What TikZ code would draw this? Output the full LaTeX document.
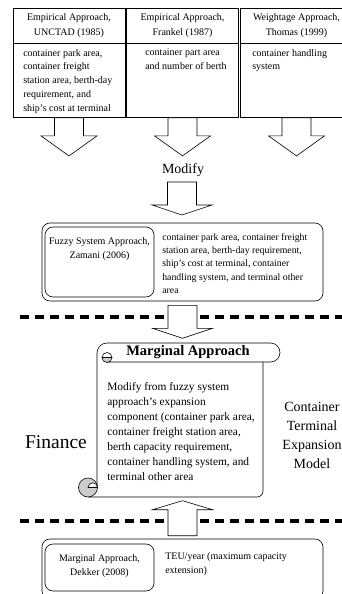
\documentclass[tikz,border=0pt]{standalone}
\usepackage{fontspec}
\setmainfont{Liberation Serif}
\usetikzlibrary{positioning}
\definecolor{rollgray}{gray}{0.8}
\tikzset{
  pics/hollow/.style n args={3}{code={
    \draw[fill=white] (-14.5,0) -- (-14.5,#1) -- (-#3,#1) -- (0,{#1+#2})
      -- (#3,#1) -- (14.5,#1) -- (14.5,0) -- cycle;
  }}
}
\begin{document}
\begin{tikzpicture}[x=1pt, y=-1pt, line width=0.6pt,
    head/.style={draw, minimum width=112pt, minimum height=35pt, inner sep=0pt, align=center, font=\fontsize{10}{15}\selectfont},
    bodybox/.style={draw, minimum width=112pt, minimum height=74pt, inner sep=0pt},
    bodytext/.style={anchor=north west, inner sep=0pt, align=left, font=\fontsize{10}{13.7}\selectfont},
    outerbox/.style={draw, rounded corners=8pt, minimum width=281pt, inner sep=0pt},
    innerbox/.style={draw, rounded corners=8pt, minimum width=109pt, inner sep=0pt},
    nametext/.style={inner sep=0pt, align=center, font=\fontsize{10}{13.5}\selectfont},
    desctext/.style={anchor=north west, inner sep=0pt, align=left, font=\fontsize{9.8}{13.3}\selectfont},
    dashline/.style={line width=3.5pt, dash pattern=on 9pt off 6pt},
    bigtext/.style={inner sep=0pt, align=center, font=\fontsize{14}{19}\selectfont}]
  \useasboundingbox (0,0) rectangle (342,594);

  % three source approaches
  \node[head] (unctadhead) at (69,25.5) {Empirical Approach,\\UNCTAD (1985)};
  \node[head] (frankelhead) at (182.5,25.5) {Empirical Approach,\\Frankel (1987)};
  \node[head] (thomashead) at (296.5,25.5) {Weightage Approach,\\Thomas (1999)};
  \node[bodybox, below=0pt of unctadhead] (unctadbody) {};
  \node[bodybox, below=0pt of frankelhead] (frankelbody) {};
  \node[bodybox, below=0pt of thomashead] (thomasbody) {};
  \node[bodytext] (unctadtext) at (23,49) {container park area,\\container freight\\station area, berth-day\\requirement, and\\ship's cost at terminal};
  \node[bodytext] (frankeltext) at (145,49) {container part area\\and number of berth};
  \node[bodytext] (thomastext) at (252,49) {container handling\\system};
  \pic at (unctadbody.south) {hollow={18}{20}{28}};
  \pic at (frankelbody.south) {hollow={18}{20}{28}};
  \pic at (thomasbody.south) {hollow={18}{20}{28}};

  \node[bigtext] (modify) at (183,170) {Modify};
  \pic at (182,182) {hollow={23}{10}{30}};

  % fuzzy system
  \node[outerbox, minimum height=78pt] (fuzzyouter) at (182.5,262) {};
  \node[innerbox, minimum height=70pt] (fuzzybox) at (99.5,262) {};
  \node[nametext] (fuzzyname) at (99.5,249) {Fuzzy System Approach,\\Zamani (2006)};
  \node[desctext] (fuzzydesc) at (162,233) {container park area, container freight\\station area, berth-day requirement,\\ship's cost at terminal, container\\handling system, and terminal other\\area};

  \draw[dashline] (20,317) -- (342,317);
  \pic at ([yshift=-4pt]fuzzyouter.south) {hollow={23}{10}{30}};

  % marginal approach scroll
  \draw[rounded corners=9.5pt] (107,343) -- (280,343) -- (280,362) -- (107,362);
  \draw[rounded corners=6pt] (263,362) -- (263,497) -- (88,497);
  \draw (97,487.5) -- (97,353) arc[start angle=180, end angle=270, radius=10];
  \draw[fill=rollgray] (102,357.5) arc[start angle=180, end angle=0, radius=5] -- cycle;
  \draw (102,357.5) arc[start angle=180, end angle=360, radius=5];
  \draw[fill=rollgray] (88,487.5) circle[radius=9.5];
  \draw[fill=white] (97.5,487.5) arc[start angle=0, end angle=-180, radius=4.75] -- cycle;
  \node[inner sep=0pt, font=\fontsize{14.5}{16}\selectfont\bfseries] (margtitle) at (188,352.5) {Marginal Approach};
  \node[anchor=north west, inner sep=0pt, align=left, font=\fontsize{11.4}{15}\selectfont] (margtext) at (107,382) {Modify from fuzzy system\\approach's expansion\\component (container park area,\\container freight station area,\\berth capacity requirement,\\container handling system, and\\terminal other area};

  \node[inner sep=0pt, font=\fontsize{19.5}{24}\selectfont] (finance) at (56,442) {Finance};
  \node[bigtext] (model) at (312,435) {Container\\Terminal\\Expansion\\Model};

  \draw[dashline] (20,521) -- (342,521);

  % dekker
  \node[outerbox, minimum height=60pt] (dekkerouter) at (182.5,569) {};
  \node[innerbox, minimum height=47pt] (dekkerbox) at (99.5,567.5) {};
  \node[nametext] (dekkername) at (99.5,566) {Marginal Approach,\\Dekker (2008)};
  \node[desctext, font=\fontsize{10}{14.5}\selectfont] (dekkerdesc) at (165,552) {TEU/year (maximum capacity\\extension)};
  \pic[rotate=180] at ([yshift=3pt]dekkerouter.north) {hollow={26}{9}{30}};
\end{tikzpicture}
\end{document}
